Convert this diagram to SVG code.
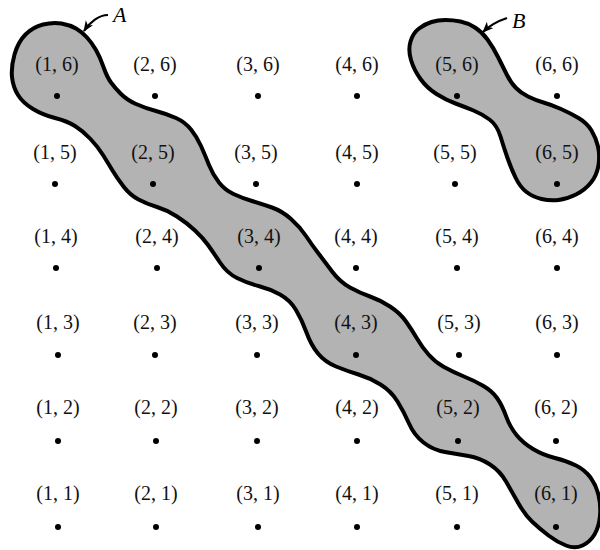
<svg xmlns="http://www.w3.org/2000/svg" width="600" height="550" viewBox="0 0 600 550">
<style>
.blob{fill:#b3b3b3;stroke:#000;stroke-width:4;stroke-linejoin:round}
.lbl{font-family:"Liberation Serif","Times New Roman",serif;font-size:20px;fill:#111;text-anchor:middle}
.name{font-family:"Liberation Serif","Times New Roman",serif;font-size:22px;font-style:italic;fill:#000}
.dot{fill:#000}
.arr{fill:none;stroke:#000;stroke-width:2.2}
</style>
<defs>
<marker id="ah" markerUnits="userSpaceOnUse" markerWidth="12" markerHeight="10" refX="10" refY="4.5" orient="auto">
<path d="M0,0 L11,4.5 L0,9 L3,4.5 Z" fill="#000"/>
</marker>
</defs>
<rect width="600" height="550" fill="#fff"/>
<g id="setA">
<path class="blob" d="M43,24.5 Q53,22 61.5,23.5 Q70,25 76,28.5 Q82,32 87,37.5 Q92,43 96,50 Q100,57 103.5,67 Q107,77 111,82.5 Q115,88 121,94 Q127,100 136,104 Q145,108 156,111 Q167,114 176,118 Q185,122 191,129.5 Q197,137 201,146 Q205,155 209,165 Q213,175 219,182.5 Q225,190 233.5,194 Q242,198 252,201 Q262,204 272,207.5 Q282,211 291,219 Q300,227 306,236 Q312,245 318.5,253.5 Q325,262 332.5,272 Q340,282 350,287.5 Q360,293 370,296.5 Q380,300 390,306.5 Q400,313 406,321.5 Q412,330 417,338.5 Q422,347 428.5,354.5 Q435,362 444,367 Q453,372 464,376.5 Q475,381 483.5,386 Q492,391 497,398 Q502,405 506,416 Q510,427 516.5,435 Q523,443 533,449 Q543,455 555,458 Q567,461 576,465.5 Q585,470 590.5,477.5 Q596,485 598.5,495 Q601,505 600,516 Q599,527 594.5,534.5 Q590,542 582.5,545.5 Q575,549 566,545.5 Q557,542 548.5,535.5 Q540,529 532.5,522 Q525,515 518.5,503.5 Q512,492 506,481.5 Q500,471 490,464.5 Q480,458 468.5,456 Q457,454 445,452 Q433,450 423.5,442.5 Q414,435 409,423.5 Q404,412 397.5,401.5 Q391,391 380.5,384.5 Q370,378 358.5,374.5 Q347,371 336,366.5 Q325,362 318,353.5 Q311,345 306.5,332.5 Q302,320 296,310 Q290,300 280,294.5 Q270,289 258.5,286 Q247,283 237,278 Q227,273 220,262.5 Q213,252 208,245 Q203,238 195,230.5 Q187,223 177,216.5 Q167,210 157,207 Q147,204 138.5,199.5 Q130,195 123.5,186.5 Q117,178 112.5,170.5 Q108,163 103,155 Q98,147 90.5,139 Q83,131 75,126 Q67,121 55,118 Q43,115 33,109 Q23,103 18,95 Q13,87 12,77 Q11,67 14.5,54.5 Q18,42 25.5,34.5 Q33,27 43,24.5 Z"/>
</g>
<g id="setB">
<path class="blob" d="M445.5,20 Q453,20 460.5,21.5 Q468,23 475,27.5 Q482,32 487.5,39.5 Q493,47 498,57 Q503,67 507,75 Q511,83 516,88 Q521,93 528,96.5 Q535,100 543.5,102.5 Q552,105 561,109 Q570,113 578.5,118 Q587,123 591.5,130.5 Q596,138 598,146.5 Q600,155 598.5,165 Q597,175 591,182.5 Q585,190 576,194.5 Q567,199 558.5,200 Q550,201 541.5,199 Q533,197 526.5,192 Q520,187 515.5,177.5 Q511,168 507.5,158 Q504,148 500.5,136.5 Q497,125 489.5,119.5 Q482,114 473.5,110.5 Q465,107 455.5,103.5 Q446,100 436.5,94 Q427,88 420.5,79 Q414,70 411,60 Q408,50 410.5,41.5 Q413,33 419,28.5 Q425,24 431.5,22 Q438,20 445.5,20 Z"/>
</g>
<g id="connectors">
<path class="arr" d="M108,15 C99,15 90,22 84,31" marker-end="url(#ah)"/>
<path class="arr" d="M507,18 C498,21 489,26 483,32" marker-end="url(#ah)"/>
</g>
<g id="setNames">
<text class="name" x="113" y="22">A</text>
<text class="name" x="512" y="28">B</text>
</g>
<g id="points">
<g id="row6">
<text class="lbl" x="57" y="71">(1, 6)</text><circle class="dot" cx="57" cy="96" r="3"/>
<text class="lbl" x="155" y="71">(2, 6)</text><circle class="dot" cx="155" cy="96" r="3"/>
<text class="lbl" x="258" y="71">(3, 6)</text><circle class="dot" cx="258" cy="96" r="3"/>
<text class="lbl" x="357" y="71">(4, 6)</text><circle class="dot" cx="357" cy="96" r="3"/>
<text class="lbl" x="457" y="71">(5, 6)</text><circle class="dot" cx="457" cy="96" r="3"/>
<text class="lbl" x="557" y="71">(6, 6)</text><circle class="dot" cx="557" cy="96" r="3"/>
</g>
<g id="row5">
<text class="lbl" x="55" y="159">(1, 5)</text><circle class="dot" cx="55" cy="184" r="3"/>
<text class="lbl" x="153" y="159">(2, 5)</text><circle class="dot" cx="153" cy="184" r="3"/>
<text class="lbl" x="256" y="159">(3, 5)</text><circle class="dot" cx="256" cy="184" r="3"/>
<text class="lbl" x="357" y="159">(4, 5)</text><circle class="dot" cx="357" cy="184" r="3"/>
<text class="lbl" x="455" y="159">(5, 5)</text><circle class="dot" cx="455" cy="184" r="3"/>
<text class="lbl" x="557" y="159">(6, 5)</text><circle class="dot" cx="557" cy="184" r="3"/>
</g>
<g id="row4">
<text class="lbl" x="56" y="243">(1, 4)</text><circle class="dot" cx="56" cy="268" r="3"/>
<text class="lbl" x="157" y="243">(2, 4)</text><circle class="dot" cx="157" cy="268" r="3"/>
<text class="lbl" x="259" y="243">(3, 4)</text><circle class="dot" cx="259" cy="268" r="3"/>
<text class="lbl" x="356" y="243">(4, 4)</text><circle class="dot" cx="356" cy="268" r="3"/>
<text class="lbl" x="457" y="243">(5, 4)</text><circle class="dot" cx="457" cy="268" r="3"/>
<text class="lbl" x="557" y="243">(6, 4)</text><circle class="dot" cx="557" cy="268" r="3"/>
</g>
<g id="row3">
<text class="lbl" x="58" y="329">(1, 3)</text><circle class="dot" cx="58" cy="355" r="3"/>
<text class="lbl" x="155" y="329">(2, 3)</text><circle class="dot" cx="155" cy="355" r="3"/>
<text class="lbl" x="257" y="329">(3, 3)</text><circle class="dot" cx="257" cy="355" r="3"/>
<text class="lbl" x="356" y="329">(4, 3)</text><circle class="dot" cx="356" cy="355" r="3"/>
<text class="lbl" x="459" y="329">(5, 3)</text><circle class="dot" cx="459" cy="355" r="3"/>
<text class="lbl" x="557" y="329">(6, 3)</text><circle class="dot" cx="557" cy="355" r="3"/>
</g>
<g id="row2">
<text class="lbl" x="58" y="414">(1, 2)</text><circle class="dot" cx="58" cy="441" r="3"/>
<text class="lbl" x="156" y="414">(2, 2)</text><circle class="dot" cx="156" cy="441" r="3"/>
<text class="lbl" x="257" y="414">(3, 2)</text><circle class="dot" cx="257" cy="441" r="3"/>
<text class="lbl" x="357" y="414">(4, 2)</text><circle class="dot" cx="357" cy="441" r="3"/>
<text class="lbl" x="458" y="414">(5, 2)</text><circle class="dot" cx="458" cy="441" r="3"/>
<text class="lbl" x="556" y="414">(6, 2)</text><circle class="dot" cx="556" cy="441" r="3"/>
</g>
<g id="row1">
<text class="lbl" x="58" y="500">(1, 1)</text><circle class="dot" cx="58" cy="527" r="3"/>
<text class="lbl" x="156" y="500">(2, 1)</text><circle class="dot" cx="156" cy="527" r="3"/>
<text class="lbl" x="258" y="500">(3, 1)</text><circle class="dot" cx="258" cy="527" r="3"/>
<text class="lbl" x="357" y="500">(4, 1)</text><circle class="dot" cx="357" cy="527" r="3"/>
<text class="lbl" x="457" y="500">(5, 1)</text><circle class="dot" cx="457" cy="527" r="3"/>
<text class="lbl" x="556" y="500">(6, 1)</text><circle class="dot" cx="556" cy="527" r="3"/>
</g>
</g>
</svg>
